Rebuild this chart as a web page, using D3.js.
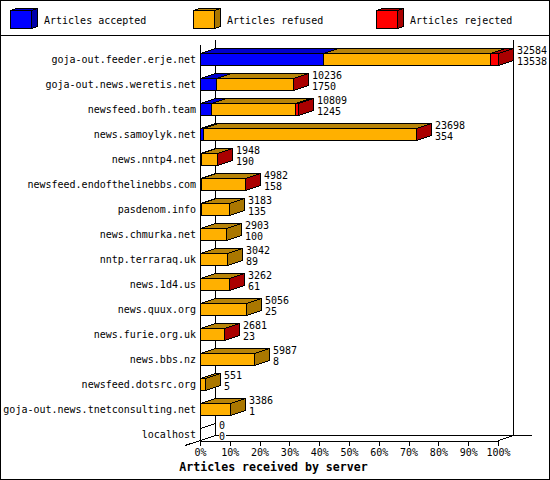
<!DOCTYPE html>
<html>
<head>
<meta charset="utf-8">
<script src="https://cdnjs.cloudflare.com/ajax/libs/d3/7.8.5/d3.min.js"></script>
<style>
html, body { margin: 0; padding: 0; background: #fff; }
svg { display: block; }
text { font-family: "DejaVu Sans Mono", monospace; font-size: 10px; fill: #000; }
</style>
</head>
<body>
<div id="chart"></div>
<script>
// Articles received by server
const servers = [
    "goja-out.feeder.erje.net", "goja-out.news.weretis.net", "newsfeed.bofh.team",
    "news.samoylyk.net", "news.nntp4.net", "newsfeed.endofthelinebbs.com",
    "pasdenom.info", "news.chmurka.net", "nntp.terraraq.uk", "news.1d4.us",
    "news.quux.org", "news.furie.org.uk", "news.bbs.nz", "newsfeed.dotsrc.org",
    "goja-out.news.tnetconsulting.net", "localhost"
];
const totals = [32584, 10236, 10809, 23698, 1948, 4982, 3183, 2903, 3042, 3262, 5056, 2681, 5987, 551, 3386, 0];
const accepted = [13538, 1750, 1245, 354, 190, 158, 135, 100, 89, 61, 25, 23, 8, 5, 1, 0];
const refused = [18246, 8456, 9234, 23284, 1738, 4794, 3048, 2803, 2953, 3161, 5031, 2638, 5979, 546, 3385, 0];
const rejected = [800, 30, 330, 60, 20, 30, 0, 0, 0, 40, 0, 20, 0, 0, 0, 0];
const tickValues = [0, 10, 20, 30, 40, 50, 60, 70, 80, 90, 100];
const legendLabels = ["Articles accepted", "Articles refused", "Articles rejected"];

// front, top, side
const colors = [
    ["#0000ff", "#0000cc", "#0000aa"],
    ["#ffb000", "#b88409", "#aa7700"],
    ["#ff0000", "#aa0000", "#aa0000"]
];

const width = 550, height = 480;
const dx = 15, dy = 5, barH = 12;

const svg = d3.select("#chart").append("svg")
    .attr("width", width)
    .attr("height", height)
    .attr("shape-rendering", "crispEdges");

const x = d3.scaleLinear().domain([0, d3.max(totals)]).range([200, 498]);
const xPct = d3.scaleLinear().domain([0, 100]).range([200, 498]);
const y = d3.scaleBand().domain(servers).range([48, 448]);

// Frame and legend separator
svg.append("rect").attr("x", 0.5).attr("y", 0.5).attr("width", 549).attr("height", 479)
    .attr("fill", "#fff").attr("stroke", "#000");
svg.append("line").attr("x1", 0).attr("x2", 550).attr("y1", 35.5).attr("y2", 35.5).attr("stroke", "#000");

// Legend
const legendX = d3.scalePoint().domain(legendLabels).range([10.5, 376.5]);
legendLabels.forEach((label, i) => {
    const g = svg.append("g").attr("transform", `translate(${legendX(label)},10.5)`);
    const w = 21, h = 18, ox = 6, oy = 2;
    g.append("path").attr("d", `M0,0 L${ox},${-oy} L${w + ox},${-oy} L${w},0 Z`)
        .attr("fill", colors[i][1]).attr("stroke", "#000");
    g.append("path").attr("d", `M${w},0 L${w + ox},${-oy} L${w + ox},${h - oy} L${w},${h} Z`)
        .attr("fill", colors[i][2]).attr("stroke", "#000");
    g.append("rect").attr("width", w).attr("height", h)
        .attr("fill", colors[i][0]).attr("stroke", "#000");
    svg.append("text").attr("x", legendX(label) + 33.5).attr("y", 24).text(label);
});

// Back and floor lines of the 3D frame
const frame = svg.append("g").attr("stroke", "#000").attr("fill", "none");
const left = xPct(0) + 0.5, right = xPct(100) + 0.5;
frame.append("line").attr("x1", left + dx).attr("x2", left + dx).attr("y1", 40).attr("y2", 435.5);
frame.append("line").attr("x1", right + dx).attr("x2", right + dx).attr("y1", 40).attr("y2", 435.5);
frame.append("line").attr("x1", left + dx).attr("x2", 532).attr("y1", 435.5).attr("y2", 435.5);
frame.append("line").attr("x1", left).attr("x2", left).attr("y1", 45).attr("y2", 440.5);
frame.append("line").attr("x1", 185).attr("x2", left + dx).attr("y1", 445.5).attr("y2", 435.5);
frame.append("line").attr("x1", right).attr("x2", right + dx).attr("y1", 440.5).attr("y2", 435.5);

// X axis
const axis = d3.axisBottom(xPct).tickValues(tickValues).tickFormat(d => d + "%")
    .tickSize(5).tickSizeOuter(0).tickPadding(3);
const axisG = svg.append("g").attr("transform", "translate(0,440.5)").call(axis);
axisG.selectAll("path,line").attr("stroke", "#000");
axisG.selectAll("text").style("font-family", '"DejaVu Sans Mono", monospace').style("font-size", "10px").attr("fill", "#000");

// Bars
servers.forEach((name, i) => {
    const top = y(name) + dy + 0.5;
    const parts = [accepted[i], refused[i], rejected[i]];
    let sum = 0, lastColor = 1;
    const g = svg.append("g").attr("stroke", "#000");

    parts.forEach((v, k) => {
        if (v <= 0) return;
        const x0 = Math.floor(x(sum)) + 0.5;
        sum += v;
        const x1 = Math.floor(x(sum)) + 0.5;
        lastColor = k;
        g.append("path")
            .attr("d", `M${x0},${top} L${x0 + dx},${top - dy} L${x1 + dx},${top - dy} L${x1},${top} Z`)
            .attr("fill", colors[k][1]);
        g.append("rect").attr("x", x0).attr("y", top).attr("width", x1 - x0).attr("height", barH)
            .attr("fill", colors[k][0]);
    });

    const end = Math.floor(x(sum)) + 0.5;
    if (sum > 0) {
        g.append("path")
            .attr("d", `M${end},${top} L${end + dx},${top - dy} L${end + dx},${top + barH - dy} L${end},${top + barH} Z`)
            .attr("fill", colors[lastColor][2]);
    } else {
        // empty bar still draws its outline
        g.append("line").attr("x1", end).attr("y1", top).attr("x2", end + dx).attr("y2", top - dy);
    }

    svg.append("text").attr("x", 196).attr("y", top + 9).attr("text-anchor", "end").text(name);

    // value labels, white box clears the floor line on the last row
    const lx = Math.floor(x(totals[i])) + dx + 4;
    const lines = [totals[i], accepted[i]];
    lines.forEach((v, n) => {
        const ly = top - 3 + (n === 0 ? 0 : 11);
        const t = String(v);
        svg.append("rect").attr("x", lx).attr("y", ly - 7).attr("width", t.length * 6 + 1).attr("height", 11).attr("fill", "#fff");
        svg.append("text").attr("x", lx).attr("y", ly + 3).text(t);
    });
});

// X title
svg.append("text").attr("x", 273.5).attr("y", 471).attr("text-anchor", "middle")
    .style("font-weight", "bold").style("font-size", "11.6px").text("Articles received by server");
</script>
</body>
</html>
